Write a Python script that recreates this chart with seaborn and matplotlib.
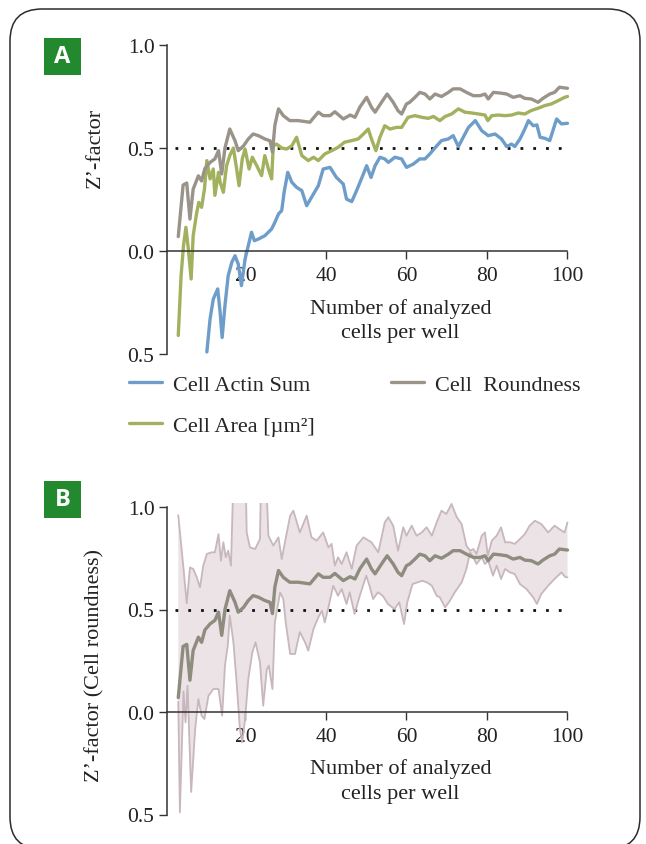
import numpy as np
import matplotlib
matplotlib.use("Agg")
import matplotlib.pyplot as plt
import seaborn as sns
from matplotlib.patches import FancyBboxPatch, Rectangle
from matplotlib.transforms import IdentityTransform
from matplotlib.lines import Line2D

# ---------------- data ----------------
round_x = [3.3, 4.5, 5.4, 6.2, 7, 8.3, 9.1, 9.9, 11.2, 12.4, 13.3, 14.1, 14.9, 16.1, 17.4, 18.2, 19.5,
           20.7, 21.9, 23.2, 24.8, 26.1, 26.7, 27.3, 28.2, 29.4, 31, 33.1, 36, 38.1, 39.3, 41, 42.2,
           44.3, 46, 47.2, 48.4, 50.1, 51.3, 52.2, 53.8, 55.2, 56.7, 57.9, 58.8, 60, 60.8, 62.1,
           63.3, 64.6, 65.8, 67.1, 68.7, 70.4, 71.6, 73.3, 74.9, 76.6, 78.3, 79.5, 80.3, 81.6,
           83.2, 84.9, 86.5, 88.2, 89.4, 91, 92.7, 93.9, 95.6, 96.8, 98, 100]
round_y = [0.07, 0.32, 0.33, 0.155, 0.30, 0.365, 0.34, 0.40, 0.43, 0.447, 0.487, 0.374, 0.50, 0.592,
           0.535, 0.487, 0.51, 0.544, 0.568, 0.56, 0.544, 0.535, 0.48, 0.61, 0.69, 0.657, 0.633,
           0.633, 0.625, 0.674, 0.657, 0.657, 0.676, 0.641, 0.66, 0.649, 0.698, 0.746, 0.698, 0.674,
           0.722, 0.762, 0.722, 0.681, 0.665, 0.714, 0.722, 0.746, 0.77, 0.762, 0.738, 0.762, 0.75,
           0.77, 0.787, 0.787, 0.77, 0.754, 0.754, 0.762, 0.738, 0.77, 0.767, 0.762, 0.746, 0.754,
           0.741, 0.738, 0.722, 0.741, 0.762, 0.77, 0.795, 0.79]

area_x = [3.3, 4, 4.6, 5.2, 5.8, 6.5, 7, 7.9, 8.4, 9.1, 9.8, 10.4, 11.2, 12, 12.4, 13.3, 13.7, 14.5,
          15.3, 16.1, 17, 17.8, 18.4, 19.2, 19.9, 20.9, 21.7, 22.8, 24, 24.8, 25.7, 26.5, 26.9,
          27.7, 29, 30.2, 31.5, 32.7, 34, 35.6, 36.9, 38.1, 39.7, 41.4, 43, 44.6, 46.4, 48, 49.3,
          50.5, 51.3, 52.4, 53.4, 54.6, 55.9, 57.5, 58.8, 59.6, 60.4, 62.1, 63.8, 65.4, 66.7,
          68.3, 69.6, 71.2, 72.9, 74.5, 76.2, 77.9, 79.5, 80.2, 81.2, 82.8, 84.5, 86.1, 87.8,
          89.4, 91, 92.7, 94.4, 96, 97.7, 99.3, 100]
area_y = [-0.41, -0.12, 0.026, 0.115, 0.01, -0.136, 0.074, 0.188, 0.236, 0.212, 0.30, 0.439, 0.35,
          0.398, 0.27, 0.382, 0.334, 0.285, 0.414, 0.463, 0.50, 0.398, 0.317, 0.447, 0.495, 0.398,
          0.455, 0.414, 0.366, 0.463, 0.398, 0.35, 0.51, 0.519, 0.50, 0.495, 0.51, 0.552, 0.463,
          0.439, 0.455, 0.439, 0.471, 0.487, 0.503, 0.528, 0.536, 0.544, 0.568, 0.592, 0.544,
          0.487, 0.552, 0.608, 0.592, 0.60, 0.60, 0.625, 0.649, 0.657, 0.649, 0.644, 0.653, 0.633,
          0.653, 0.665, 0.69, 0.674, 0.67, 0.665, 0.66, 0.633, 0.657, 0.66, 0.657, 0.66, 0.67,
          0.665, 0.682, 0.693, 0.706, 0.714, 0.73, 0.746, 0.75]

actin_x = [10.4, 11.2, 12, 13.1, 13.7, 14.2, 14.9, 15.7, 16.6, 17.4, 18.2, 19, 19.9, 20.7, 21.5,
           22.2, 23.2, 24.8, 26.5, 27.3, 28.2, 29, 29.6, 30.5, 31.5, 32.7, 34, 35.2, 36.9, 38.1,
           39.3, 41, 42.6, 44.3, 45.1, 46.4, 47.6, 49.3, 50.1, 51.2, 52.2, 53.4, 54.6, 55.5, 57.1,
           58.8, 60, 61.7, 63.3, 64.6, 65.8, 67.5, 68.7, 70.4, 71.6, 72.9, 74.1, 75.4, 77.1, 78.7,
           80.3, 82, 83.6, 84.9, 86.1, 86.9, 88.2, 89.4, 90.3, 91.5, 92.4, 93.2, 94.4, 95.6, 97.3,
           98.5, 100]
actin_y = [-0.49, -0.33, -0.233, -0.184, -0.298, -0.42, -0.265, -0.12, -0.055, -0.023, -0.063,
           -0.168, -0.039, 0.026, 0.091, 0.05, 0.058, 0.074, 0.107, 0.139, 0.18, 0.196, 0.285,
           0.382, 0.334, 0.309, 0.293, 0.22, 0.277, 0.317, 0.398, 0.406, 0.357, 0.325, 0.252,
           0.24, 0.293, 0.374, 0.414, 0.357, 0.414, 0.455, 0.447, 0.43, 0.455, 0.447, 0.406, 0.422,
           0.447, 0.447, 0.471, 0.51, 0.536, 0.544, 0.56, 0.507, 0.552, 0.60, 0.633, 0.584, 0.56,
           0.568, 0.544, 0.507, 0.519, 0.507, 0.544, 0.592, 0.633, 0.608, 0.612, 0.552, 0.547,
           0.536, 0.641, 0.617, 0.62]

upper_x = [3.3, 4.6, 5.4, 6.2, 7, 7.9, 8.7, 9.5, 10.4, 11.6, 12.4, 13.3, 13.9, 14.5, 15.1, 15.7,
           16.4, 17.2, 17.8, 19.3, 19.9, 20.3, 21.1, 22.4, 23.6, 24.0, 24.8, 25.7, 26.9, 28.2, 29,
           29.8, 31.1, 31.9, 33.5, 35.2, 36.4, 37.7, 39.3, 40.6, 41.4, 42.2, 43, 43.9, 45.1, 46.4,
           47.6, 49.3, 51.3, 53, 54.6, 55.5, 56.7, 57.9, 59.2, 60, 61.3, 62.5, 63.8, 65, 66.3,
           67.5, 68.7, 69.9, 71.2, 72.5, 73.7, 74.9, 75.8, 76.6, 77.4, 78.7, 79.5, 80.2, 81.2,
           82.4, 83.5, 84.5, 85.7, 86.9, 88.2, 89.4, 90.6, 91.9, 93.5, 95.2, 96.8, 98, 99.3, 100]
upper_y = [0.96, 0.70, 0.53, 0.705, 0.698, 0.657, 0.608, 0.714, 0.771, 0.779, 0.779, 0.868, 0.738,
           0.828, 0.755, 0.787, 0.714, 1.3, 1.3, 1.3, 1.3, 0.876, 0.803, 0.795, 0.844, 1.3, 1.3,
           0.86, 0.812, 0.852, 0.746, 0.828, 0.958, 0.982, 0.876, 0.958, 0.852, 0.836, 0.876,
           0.803, 0.82, 0.714, 0.755, 0.722, 0.779, 0.698, 0.811, 0.852, 0.828, 0.779, 0.925,
           0.95, 0.909, 0.787, 0.901, 0.86, 0.909, 0.86, 0.876, 0.901, 0.86, 0.925, 0.982, 0.966,
           1.015, 0.95, 0.917, 0.811, 0.787, 0.795, 0.771, 0.86, 0.876, 0.763, 0.836, 0.86, 0.901,
           0.828, 0.828, 0.82, 0.844, 0.868, 0.909, 0.933, 0.917, 0.876, 0.909, 0.892, 0.876, 0.925]

lower_x = [3.3, 3.7, 4.6, 5.1, 5.6, 6.5, 7.5, 8.3, 9.1, 9.8, 10.8, 12, 13.3, 14.2, 14.9, 15.6, 16.1,
           17, 17.8, 18.6, 19.2, 19.9, 20.7, 21.7, 22.5, 23.6, 24.4, 25.3, 25.8, 26.7, 27.3, 28.6,
           29.4, 30, 31.1, 32.3, 33.5, 34.8, 35.6, 36.9, 38.1, 39, 39.7, 40.6, 41.8, 43, 43.9,
           45.1, 45.9, 47.1, 48.4, 50, 50.8, 51.7, 52.9, 54.1, 55.4, 57, 58.2, 59.4, 60.2, 61.5,
           62.7, 63.9, 65.1, 66.3, 67.5, 68.3, 69.6, 70.8, 72, 73.7, 74.9, 75.8, 76.6, 77.4, 78.7,
           79.5, 80.3, 81.5, 82.4, 83.5, 84.5, 85.7, 86.9, 88.2, 89.8, 91.5, 92.4, 93.5, 95.2,
           96.8, 98.5, 99.5, 100]
lower_y = [0.05, -0.49, 0.1, -0.05, 0.128, -0.39, -0.083, 0.063, -0.018, -0.034, 0.079, 0.112,
           0.112, -0.018, 0.226, 0.324, 0.47, 0.34, 0.145, -0.083, -0.148, -0.034, 0.161, 0.291,
           0.34, 0.242, 0.031, 0.209, 0.226, 0.112, 0.437, 0.583, 0.551, 0.437, 0.283, 0.283,
           0.39, 0.34, 0.299, 0.405, 0.462, 0.494, 0.437, 0.51, 0.616, 0.567, 0.6, 0.527, 0.584,
           0.478, 0.567, 0.665, 0.616, 0.551, 0.584, 0.567, 0.527, 0.502, 0.535, 0.429, 0.535,
           0.624, 0.632, 0.64, 0.632, 0.616, 0.567, 0.559, 0.51, 0.543, 0.584, 0.632, 0.698,
           0.779, 0.755, 0.722, 0.755, 0.722, 0.738, 0.665, 0.714, 0.649, 0.698, 0.681, 0.673,
           0.624, 0.6, 0.559, 0.527, 0.576, 0.616, 0.649, 0.681, 0.657, 0.657]

threshold = 0.5
y_ticks = [-0.5, 0.0, 0.5, 1.0]
y_tick_labels = ["0.5", "0.0", "0.5", "1.0"]
x_ticks = [20, 40, 60, 80, 100]
series_labels = ["Cell Actin Sum", "Cell Area [µm²]", "Cell  Roundness"]

# ---------------- styling ----------------
W, H = 646, 845
sns.set_style("ticks")
plt.rcParams["font.family"] = ["Liberation Serif", "DejaVu Serif"]
FS = 15.5
TXT = 16
INK = "#333333"
C_ACTIN = "#6d9dc8"
C_AREA = "#a2b15e"
C_ROUND = "#9a938a"
C_ROUND_B = "#8e8c7f"
C_BAND = "#ebe3e6"
C_BAND_EDGE = "#c8b7bc"
C_BOX = "#22892e"

fig = plt.figure(figsize=(W / 100, H / 100), dpi=100)


def rect(left, right, top, bottom):
    return [left / W, 1 - bottom / H, (right - left) / W, (bottom - top) / H]


XL = (0.5, 101)
YL = (-0.505, 1.02)
axA = fig.add_axes(rect(167, 571.5, 252 - 1.02 * 206, 252 + 0.505 * 206))
axB = fig.add_axes(rect(167, 571.5, 713 - 1.02 * 205, 713 + 0.505 * 205))


def style_axes(ax):
    ax.set_xlim(*XL)
    ax.set_ylim(*YL)
    for s in ["top", "right"]:
        ax.spines[s].set_visible(False)
    ax.spines["left"].set_bounds(-0.5, 1.0)
    ax.spines["bottom"].set_position(("data", 0))
    ax.spines["bottom"].set_bounds(XL[0], 100)
    for s in ["left", "bottom"]:
        ax.spines[s].set_color(INK)
        ax.spines[s].set_linewidth(1.1)
    ax.set_yticks(y_ticks)
    ax.set_yticklabels(y_tick_labels)
    ax.set_xticks(x_ticks)
    ax.tick_params(axis="both", direction="out", length=6, width=1.0, color=INK,
                   labelsize=FS, labelcolor="#222222", pad=3)
    ax.tick_params(axis="x", pad=5)
    ax.hlines(threshold, 2.5, 99.5, colors="#111111", linestyles=(0, (1, 3.6)), lw=2.0, zorder=1)
    ax.set_xlabel("")
    ax.set_ylabel("")
    ax.text(58.5, -0.335, "Number of analyzed\ncells per well", ha="center", va="center",
            fontsize=TXT, color="#222222", linespacing=1.4)


# Panel A
sns.lineplot(x=actin_x, y=actin_y, ax=axA, color=C_ACTIN, lw=2.4, sort=False, estimator=None)
sns.lineplot(x=area_x, y=area_y, ax=axA, color=C_AREA, lw=2.4, sort=False, estimator=None)
sns.lineplot(x=round_x, y=round_y, ax=axA, color=C_ROUND, lw=2.4, sort=False, estimator=None)
style_axes(axA)

# Panel B
band_x = np.r_[upper_x, lower_x[::-1]]
band_y = np.r_[upper_y, lower_y[::-1]]
axB.fill(band_x, band_y, color=C_BAND, lw=0, zorder=0)
sns.lineplot(x=upper_x, y=upper_y, ax=axB, color=C_BAND_EDGE, lw=1.3, sort=False, estimator=None)
sns.lineplot(x=lower_x, y=lower_y, ax=axB, color=C_BAND_EDGE, lw=1.3, sort=False, estimator=None)
sns.lineplot(x=round_x, y=round_y, ax=axB, color=C_ROUND_B, lw=2.4, sort=False, estimator=None)
style_axes(axB)

# legend
handles = [Line2D([], [], color=c, lw=2.4) for c in (C_ACTIN, C_AREA, C_ROUND)]
fig.legend(handles, series_labels, loc="upper left", bbox_to_anchor=(129 / W, 1 - 375 / H),
           ncol=2, frameon=False, fontsize=TXT, handlelength=1.5, handletextpad=0.5,
           columnspacing=3.4, labelspacing=0.95, borderpad=0, borderaxespad=0)

# y labels
fig.text(95 / W, 1 - 148 / H, "Z’-factor", rotation=90, ha="center", va="center",
         fontsize=TXT, color="#222222")
fig.text(95 / W, 1 - 666 / H, "Z’-factor (Cell roundness)", rotation=90, ha="center",
         va="center", fontsize=TXT, color="#222222")

# panel letters
for letter, top in (("A", 39), ("B", 482)):
    fig.add_artist(Rectangle((44, H - top - 37), 37, 37, transform=IdentityTransform(),
                             facecolor=C_BOX, edgecolor="none"))
    fig.text(62.5, H - top - 18.5, letter, transform=IdentityTransform(), ha="center",
             va="center", color="white", fontsize=17, fontweight="bold",
             family=["Open Sans", "DejaVu Sans"])

# rounded frame
fig.add_artist(FancyBboxPatch((10, -5), 630, H - 10 + 5, boxstyle="round,pad=0,rounding_size=32",
                              transform=IdentityTransform(), facecolor="none",
                              edgecolor="#2b2b2b", lw=1.1))

fig.savefig("out.png", dpi=100, facecolor="white")
